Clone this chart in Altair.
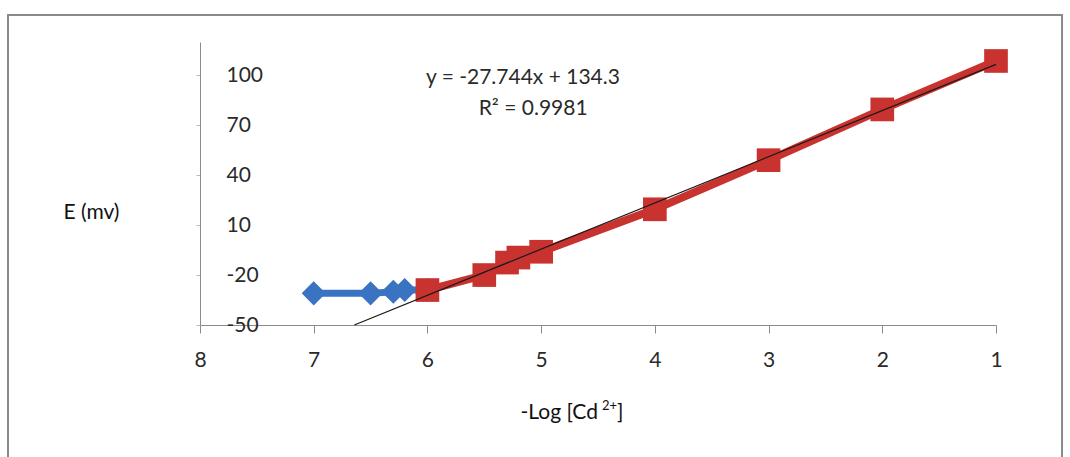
import altair as alt
import pandas as pd

# Data
blue_x = [7.0, 6.5, 6.3, 6.2, 6.0]
blue_y = [-31.0, -31.0, -30.0, -29.0, -29.0]

red_x = [6.0, 5.5, 5.3, 5.2, 5.0, 4.0, 3.0, 2.0, 1.0]
red_y = [-29.0, -20.0, -12.5, -9.5, -6.0, 19.5, 49.0, 79.5, 108.6]

slope = -27.744
intercept = 134.3
r2 = 0.9981

x_ticks = [8, 7, 6, 5, 4, 3, 2, 1]
y_ticks = [-50, -20, 10, 40, 70, 100]

title_parts = ["-Log [Cd", "2+", "]"]

FONT = "Lato"
TXT = "#2a2a2a"

blue = pd.DataFrame({"x": blue_x, "y": blue_y})
red = pd.DataFrame({"x": red_x, "y": red_y})
x_start = (-50 - intercept) / slope
trend = pd.DataFrame({"x": [x_start, 1.0]})
trend["y"] = slope * trend["x"] + intercept

xs = alt.Scale(domain=[1, 8], reverse=True, nice=False, zero=False)
ys = alt.Scale(domain=[-50, 120], nice=False, zero=False)

x_axis = alt.Axis(values=x_ticks, title=None, grid=False,
                  labelExpr="'' + datum.value", labelFlush=False,
                  domainColor="#8c8c8c", tickColor="#8c8c8c", tickSize=8,
                  labelPadding=16, labelFontSize=21, labelColor=TXT,
                  labelFont=FONT)
y_axis = alt.Axis(values=y_ticks, title="E (mv)", grid=False,
                  labelExpr="'' + datum.value",
                  domainColor="#8c8c8c", tickColor="#bbbbbb", tickSize=4,
                  labelAlign="left", labelPadding=-30, labelFontSize=21,
                  labelColor=TXT, labelFont=FONT, labelBaseline="middle",
                  titleFont=FONT, titleFontSize=21, titleFontWeight="normal",
                  titleColor="#111111", titleAngle=0, titleX=-109, titleY=170,
                  titleAlign="center", titleBaseline="middle")

frame = alt.Chart(pd.DataFrame({"a": [0]})).mark_rect(
    filled=False, stroke="#8a8a8a", strokeWidth=2
).encode(x=alt.value(-192), x2=alt.value(862), y=alt.value(-27), y2=alt.value(440))

blue_line = alt.Chart(blue).mark_line(color="#3a73c2", strokeWidth=7).encode(
    x=alt.X("x:Q", scale=xs, axis=x_axis),
    y=alt.Y("y:Q", scale=ys, axis=y_axis),
)
blue_pts = alt.Chart(blue).mark_point(
    shape="diamond", filled=True, size=580, color="#3a73c2", opacity=1
).encode(x=alt.X("x:Q", scale=xs), y=alt.Y("y:Q", scale=ys))

red_line = alt.Chart(red).mark_line(color="#c8322f", strokeWidth=8).encode(
    x=alt.X("x:Q", scale=xs), y=alt.Y("y:Q", scale=ys)
)
red_pts = alt.Chart(red).mark_point(
    shape="square", filled=True, size=560, color="#c8322f", opacity=1
).encode(x=alt.X("x:Q", scale=xs), y=alt.Y("y:Q", scale=ys))

trend_line = alt.Chart(trend).mark_line(color="#1a1a1a", strokeWidth=1.2).encode(
    x=alt.X("x:Q", scale=xs), y=alt.Y("y:Q", scale=ys)
)

eq_lines = [f"y = {slope}x + {intercept}", f"R² = {r2}"]
ann = pd.DataFrame({"x": [5.16, 5.07], "y": [98.4, 80.0], "t": eq_lines})
ann_text = alt.Chart(ann).mark_text(
    font=FONT, fontSize=21, color=TXT, align="center", baseline="middle"
).encode(x=alt.X("x:Q", scale=xs), y=alt.Y("y:Q", scale=ys), text="t:N")

# x-axis title with raised "2+"
t_main = alt.Chart(pd.DataFrame({"t": [title_parts[0]]})).mark_text(
    font=FONT, fontSize=21, color="#111111", align="right", baseline="middle"
).encode(text="t:N", x=alt.value(398), y=alt.value(371))
t_sup = alt.Chart(pd.DataFrame({"t": [title_parts[1]]})).mark_text(
    font=FONT, fontSize=13, color="#111111", align="left", baseline="middle"
).encode(text="t:N", x=alt.value(402), y=alt.value(364))
t_end = alt.Chart(pd.DataFrame({"t": [title_parts[2]]})).mark_text(
    font=FONT, fontSize=21, color="#111111", align="left", baseline="middle"
).encode(text="t:N", x=alt.value(417), y=alt.value(371))

chart = alt.layer(
    frame, blue_line, blue_pts, red_line, red_pts, trend_line, ann_text,
    t_main, t_sup, t_end
).properties(
    width=796, height=283,
    autosize=alt.AutoSizeParams(type="none"),
    padding={"left": 200, "top": 42, "right": 74, "bottom": 132},
    background="white",
).configure_view(stroke=None)

chart.save("out.html", embed_options={"renderer": "svg", "actions": False})
